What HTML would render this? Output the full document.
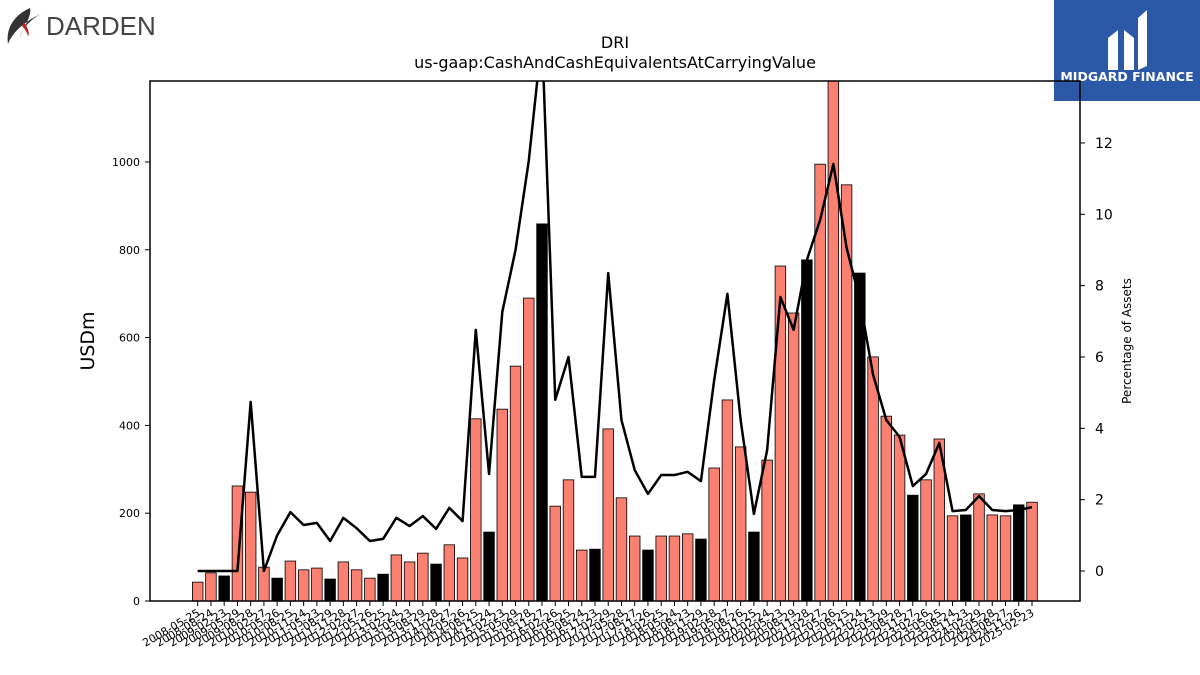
<!DOCTYPE html>
<html><head><meta charset="utf-8"><style>
body{margin:0;background:#fff;font-family:"Liberation Sans","DejaVu Sans",sans-serif}
#wrap{position:relative;width:1200px;height:675px;overflow:hidden}
</style></head><body>
<div id="wrap">
<svg id="chart" width="1200" height="675" xmlns="http://www.w3.org/2000/svg" font-family="DejaVu Sans, Liberation Sans, sans-serif">
<g>
<path d="M30 8 C12 16 6 30 8 44 C12 34 20 24 44 12 C32 18 22 28 20 38 C24 26 32 16 30 8Z" fill="#333"/>
<path d="M24 22 C28 28 30 34 28 36 C26 30 24 28 22 26Z" fill="#b22"/>
<text x="46" y="35" font-size="26" fill="#444" font-family="Liberation Sans, sans-serif">DARDEN</text>
</g>
<g>
<rect x="1054" y="0" width="146" height="101" fill="#2b59a8"/>
<path d="M1108 70 L1108 38 L1118 30 L1118 70Z M1124 70 L1124 30 L1134 38 L1134 70Z M1138 70 L1138 18 L1147 10 L1147 66Z" fill="#fff"/>
<text x="1127" y="81" font-size="12.5" font-weight="bold" fill="#fff" text-anchor="middle">MIDGARD FINANCE</text>
</g>
<text x="615" y="48" font-size="16" text-anchor="middle">DRI</text>
<text x="615" y="68" font-size="16" text-anchor="middle">us-gaap:CashAndCashEquivalentsAtCarryingValue</text>
<g id="plot"></g>
<text x="0" y="0" font-size="19" text-anchor="middle" transform="translate(94,341) rotate(-90)">USDm</text>
<text x="0" y="0" font-size="12" text-anchor="middle" transform="translate(1131,341) rotate(-90)">Percentage of Assets</text>
</svg>
</div>
<script>
const values=[43,64,57,262,248,77,52,91,71,75,50,89,71,52,61,105,89,109,84,128,98,415,157,437,535,690,859,216,276,116,118,392,235,148,116,148,148,153,141,303,458,351,157,321,763,656,777,995,1250,948,747,556,421,378,241,276,369,194,196,244,196,194,219,225];
const pct=[0,0,0,0,4.74,0,1.0,1.65,1.29,1.35,0.84,1.49,1.2,0.84,0.9,1.49,1.26,1.54,1.18,1.77,1.4,6.76,2.72,7.26,9.0,11.5,15,4.8,6.0,2.64,2.64,8.35,4.23,2.83,2.16,2.69,2.69,2.78,2.52,5.35,7.77,4.23,1.6,3.39,7.68,6.76,8.72,9.84,11.41,9.06,7.6,5.5,4.23,3.76,2.38,2.72,3.59,1.68,1.71,2.1,1.71,1.68,1.71,1.79];
const leftTicks=[0,200,400,600,800,1000];
const rightTicks=[0,2,4,6,8,10,12];
const labels=(function(){const out=[];const ms=["02","05","08","11"];let y=2008,q=1;const days=["25","24","23","29","28","27","26"];let i=0;
while(out.length<64){out.push(y+"-"+ms[q]+"-"+days[i%7]);i++;q++;if(q>3){q=0;y++;} if(out.length==2||out.length==5||out.length==9||out.length==14){q++;if(q>3){q=0;y++;}}}
out[0]="2008-05-25";out[63]="2025-02-23";return out;})();
const X0=150,X1=1080,Y0=601,Y1=81;
const xs=i=>197.7+i*(1032-197.7)/(values.length-1);
const yL=v=>Y0-v*(Y0-Y1)/1184.5;
const yR=v=>571-v*35.67;
const NS="http://www.w3.org/2000/svg";
const plot=document.getElementById('plot');
function mk(t,a){const e=document.createElementNS(NS,t);for(const k in a)e.setAttribute(k,a[k]);return e;}
const clip=mk('clipPath',{id:'pc'});clip.appendChild(mk('rect',{x:X0,y:Y1,width:X1-X0,height:Y0-Y1}));plot.appendChild(clip);
const g=mk('g',{'clip-path':'url(#pc)'});plot.appendChild(g);
const bw=0.8*(1032-197.7)/63;
values.forEach((v,i)=>{const r=mk('rect',{x:xs(i)-bw/2,y:yL(v),width:bw,height:Y0-yL(v),fill:(i%4==2)?'#000':'#fa8072',stroke:'#000','stroke-width':0.8});


g.appendChild(r);});
const line=mk('polyline',{points:pct.map((v,i)=>xs(i)+','+yR(v)).join(' '),fill:'none',stroke:'#000','stroke-width':2.5,'stroke-linejoin':'round'});


g.appendChild(line);
const frame=mk('rect',{x:X0,y:Y1,width:X1-X0,height:Y0-Y1,fill:'none',stroke:'#000','stroke-width':1.5});


plot.appendChild(frame);
leftTicks.forEach(t=>{const y=yL(t);plot.appendChild(mk('line',{x1:X0-5,x2:X0,y1:y,y2:y,stroke:'#000'}));
const tx=mk('text',{x:X0-10,y:y+4,'font-size':11,'text-anchor':'end'});tx.textContent=t;


plot.appendChild(tx);});
rightTicks.forEach(t=>{const y=yR(t);plot.appendChild(mk('line',{x1:X1,x2:X1+5,y1:y,y2:y,stroke:'#000'}));
const tx=mk('text',{x:X1+15,y:y+5,'font-size':14});tx.textContent=t;


plot.appendChild(tx);});
labels.forEach((l,i)=>{const x=xs(i);plot.appendChild(mk('line',{x1:x,x2:x,y1:Y0,y2:Y0+5,stroke:'#000'}));
const tx=mk('text',{x:0,y:0,'font-size':11,'text-anchor':'end',transform:`translate(${x+3},${Y0+14}) rotate(-30)`});tx.textContent=l;


plot.appendChild(tx);});
</script>
</body></html>
